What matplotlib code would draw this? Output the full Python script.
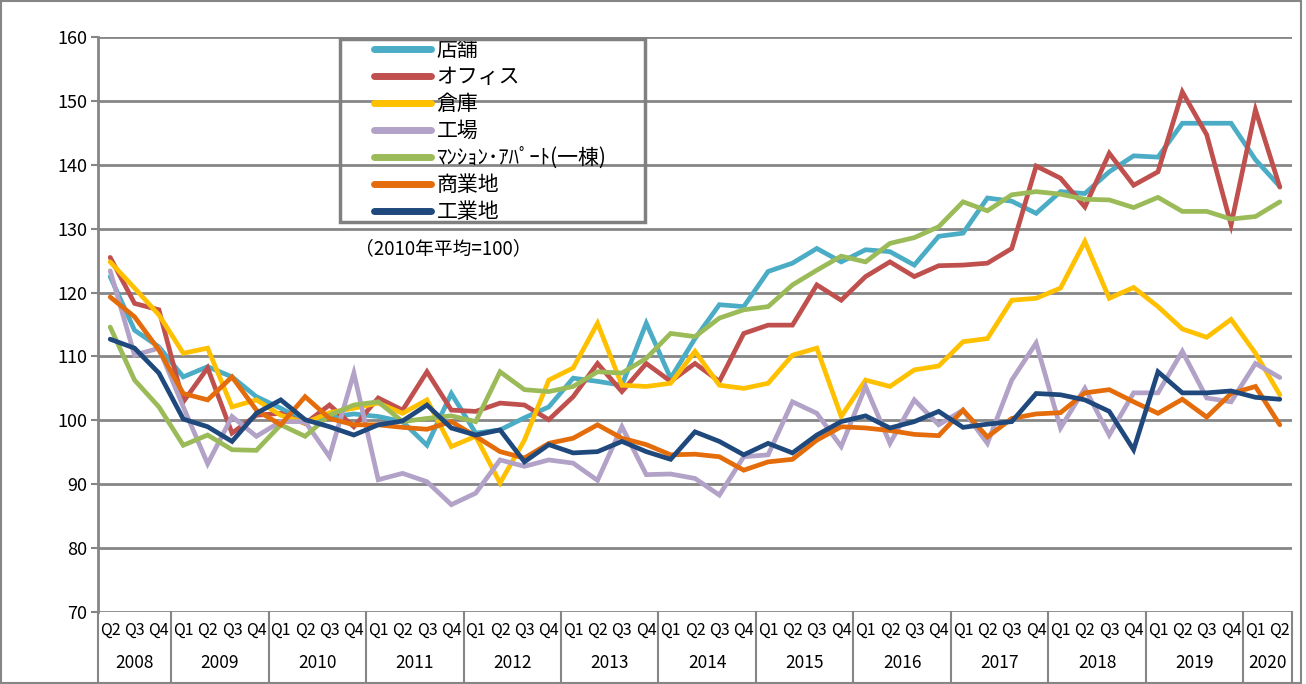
import numpy as np
import matplotlib
matplotlib.use("Agg")
import matplotlib.pyplot as plt
import matplotlib.transforms as mtransforms
from matplotlib.patches import Rectangle

plt.rcParams['font.family'] = ['Noto Sans CJK JP', 'DejaVu Sans']

# 2008Q2 .. 2020Q2
quarters = ["Q2", "Q3", "Q4"] + ["Q1", "Q2", "Q3", "Q4"] * 11 + ["Q1", "Q2"]
years = [str(y) for y in range(2008, 2021)]
year_counts = [3] + [4] * 11 + [2]

store = [122.5, 114.1, 111.5, 106.8, 108.4, 106.8, 103.7, 101.9, 99.8, 100.5,
         101.0, 100.6, 99.8, 96.1, 104.2, 98.0, 98.5, 100.4, 102.1, 106.6,
         106.1, 105.5, 115.2, 106.6, 112.8, 118.1, 117.8, 123.3, 124.6, 126.9,
         124.8, 126.7, 126.4, 124.3, 128.8, 129.3, 134.8, 134.3, 132.4, 135.8,
         135.5, 138.9, 141.4, 141.2, 146.5, 146.5, 146.5, 140.8, 136.6]
office = [125.5, 118.3, 117.3, 102.9, 108.2, 98.0, 100.8, 101.1, 99.5, 102.4,
          99.0, 103.5, 101.6, 107.6, 101.6, 101.4, 102.7, 102.4, 100.1, 103.7,
          108.9, 104.5, 108.9, 106.1, 108.9, 106.1, 113.6, 114.9, 114.9, 121.2,
          118.8, 122.5, 124.8, 122.5, 124.2, 124.3, 124.6, 126.9, 139.8, 137.9,
          133.4, 141.8, 136.8, 138.9, 151.4, 144.7, 130.6, 148.6, 136.5]
warehouse = [124.8, 120.7, 116.5, 110.5, 111.3, 102.1, 103.2, 100.8, 99.6, 101.2,
             101.9, 102.7, 101.1, 103.2, 95.9, 97.5, 90.2, 96.9, 106.3, 108.2,
             115.2, 105.5, 105.3, 105.8, 110.8, 105.5, 105.0, 105.8, 110.2, 111.3,
             100.6, 106.3, 105.3, 107.9, 108.5, 112.3, 112.8, 118.8, 119.1, 120.7,
             128.0, 119.1, 120.8, 117.8, 114.3, 113.0, 115.8, 110.5, 104.0]
factory = [123.4, 110.2, 111.3, 102.1, 93.2, 100.6, 97.5, 99.8, 99.8, 94.3,
           107.4, 90.7, 91.7, 90.4, 86.8, 88.6, 93.8, 92.8, 93.8, 93.3,
           90.6, 99.0, 91.5, 91.6, 90.9, 88.3, 94.3, 94.6, 102.9, 101.1,
           95.9, 105.3, 96.4, 103.2, 99.3, 101.6, 96.4, 106.3, 112.1, 98.8,
           105.0, 97.7, 104.3, 104.3, 110.8, 103.5, 102.9, 108.9, 106.7]
apartment = [114.6, 106.3, 102.1, 96.1, 97.7, 95.4, 95.3, 99.3, 97.5, 100.8,
             102.4, 102.9, 99.8, 100.3, 100.7, 99.8, 107.6, 104.8, 104.5, 105.3,
             107.6, 107.4, 109.7, 113.6, 113.1, 116.0, 117.3, 117.8, 121.2, 123.5,
             125.7, 124.8, 127.7, 128.6, 130.3, 134.2, 132.8, 135.3, 135.8, 135.4,
             134.6, 134.5, 133.3, 134.9, 132.7, 132.7, 131.5, 131.9, 134.2]
commercial = [119.3, 116.2, 111.0, 104.2, 103.2, 106.8, 101.6, 99.3, 103.7, 100.3,
              99.3, 99.3, 98.9, 98.6, 99.8, 97.5, 95.1, 94.1, 96.4, 97.2,
              99.3, 97.2, 96.2, 94.6, 94.7, 94.3, 92.2, 93.5, 93.9, 96.9,
              99.0, 98.8, 98.4, 97.8, 97.6, 101.6, 97.4, 100.3, 101.0, 101.2,
              104.3, 104.8, 102.9, 101.1, 103.3, 100.5, 104.2, 105.3, 99.3]
industrial = [112.7, 111.3, 107.4, 100.2, 99.0, 96.7, 101.1, 103.2, 100.1, 99.0,
              97.7, 99.3, 99.9, 102.4, 98.8, 97.7, 98.5, 93.5, 96.2, 94.9,
              95.1, 96.7, 95.1, 93.9, 98.2, 96.7, 94.6, 96.4, 94.9, 97.7,
              99.8, 100.7, 98.8, 99.8, 101.4, 98.9, 99.4, 99.8, 104.2, 104.0,
              103.2, 101.4, 95.4, 107.6, 104.3, 104.3, 104.6, 103.6, 103.3]

series = [
    ("店舗", store, "#4BACC6"),
    ("オフィス", office, "#C0504D"),
    ("倉庫", warehouse, "#FFC000"),
    ("工場", factory, "#B2A2C7"),
    ("ﾏﾝｼｮﾝ･ｱﾊﾟｰﾄ(一棟)", apartment, "#9BBB59"),
    ("商業地", commercial, "#E46C0A"),
    ("工業地", industrial, "#1F497D"),
]

GRAY = "#868686"
W, H = 1306, 684

fig = plt.figure(figsize=(W / 100, H / 100), dpi=100)
ax = fig.add_axes([98 / W, 1 - 612 / H, 1194 / W, 575 / H])

x = np.arange(len(quarters))
for name, vals, color in series:
    ax.plot(x, vals, color=color, lw=3.4, label=name, solid_capstyle="round",
            solid_joinstyle="miter")

ax.set_xlim(-0.5, len(quarters) - 0.5)
ax.set_ylim(70, 160)
ax.set_yticks(range(70, 161, 10))
ax.yaxis.grid(True, color=GRAY, lw=2)
ax.set_axisbelow(True)
for side in ["top", "right", "bottom"]:
    ax.spines[side].set_visible(False)
ax.spines["left"].set_color(GRAY)
ax.spines["left"].set_linewidth(2)
ax.tick_params(axis="y", colors=GRAY, length=5, width=1.5, labelsize=13,
               labelcolor="black", pad=3)

ax.set_xticks(x)
ax.set_xticklabels(quarters, fontsize=11.5)
ax.tick_params(axis="x", length=0, pad=7)

# year labels and group separators below the axis
trans = mtransforms.blended_transform_factory(ax.transData, ax.transAxes)
start = 0
bounds = [-0.5]
for yr, n in zip(years, year_counts):
    ax.text(start + (n - 1) / 2, -0.089, yr, transform=trans, ha="center",
            va="center", fontsize=12.5)
    start += n
    bounds.append(start - 0.5)
for b in bounds:
    ax.plot([b, b], [0, -0.125], transform=trans, color=GRAY, lw=1.5,
            clip_on=False)

# legend: frame drawn separately so its size matches the original box
leg = ax.legend(loc="upper left", bbox_to_anchor=(374 / W, 1 - 39 / H),
                bbox_transform=fig.transFigure, fontsize=15, handlelength=2.75,
                handletextpad=0.25, labelspacing=0.24, borderpad=0,
                borderaxespad=0, frameon=False)
for line in leg.get_lines():
    line.set_linewidth(5)
    line.set_solid_capstyle("round")
fig.patches.append(Rectangle((340 / W, 1 - 222 / H), 305 / W, 183 / H,
                             transform=fig.transFigure, fill=False,
                             edgecolor="#808080", lw=2.5, zorder=5))

fig.text(355 / W, 1 - 249 / H, "（2010年平均=100）", fontsize=13.5,
         ha="left", va="center")

# outer frame
fig.patches.append(Rectangle((0.001, 0.001), 0.995, 0.997, transform=fig.transFigure,
                             fill=False, edgecolor=GRAY, lw=1.5))

fig.savefig("out.png", dpi=100)
